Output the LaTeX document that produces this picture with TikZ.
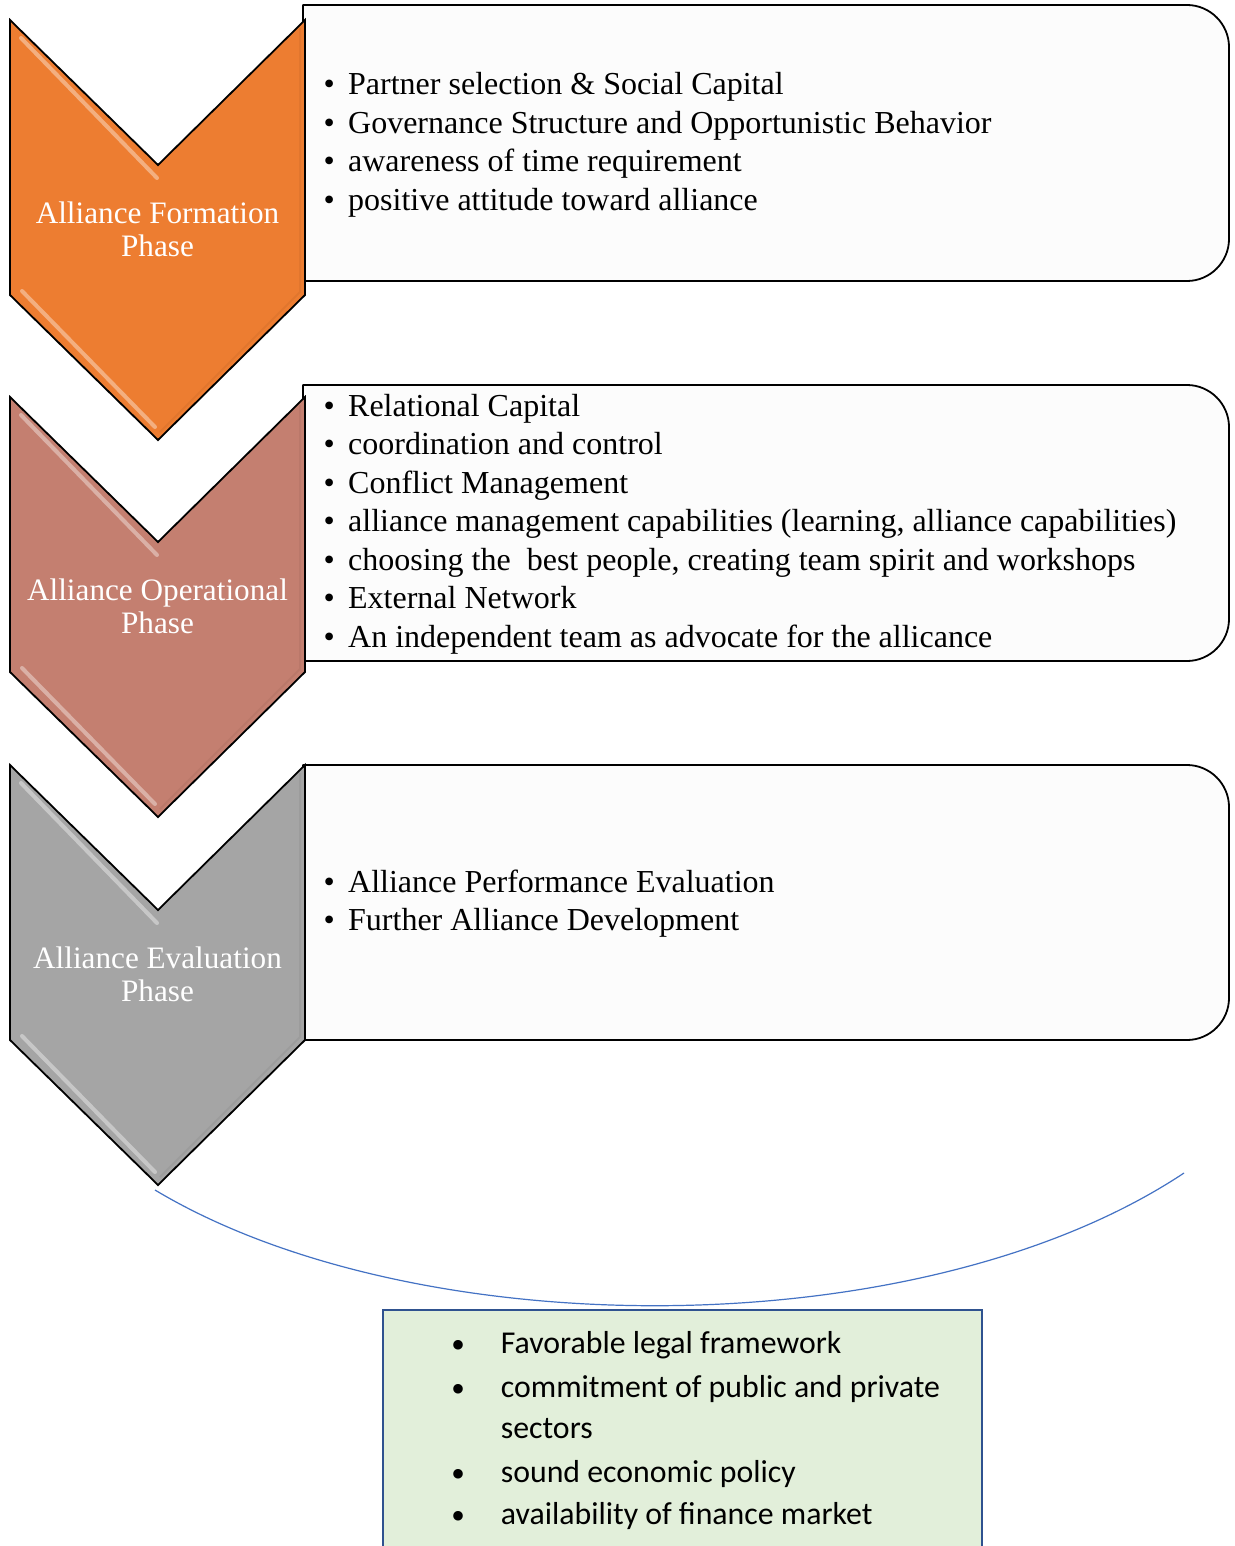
\documentclass[tikz,border=0pt]{standalone}
\usepackage{fontspec}
\setmainfont{Liberation Serif}
\newfontfamily\calfont{Carlito}
\definecolor{phorange}{HTML}{ED7D31}
\definecolor{phrose}{HTML}{C47F70}
\definecolor{phgray}{HTML}{A5A5A5}
\definecolor{boxfill}{HTML}{FCFCFC}
\definecolor{envfill}{HTML}{E2EFDA}
\definecolor{envdraw}{HTML}{2F528F}
\definecolor{arcblue}{HTML}{4472C4}
\newcommand\stagebox[2]{%
  \draw[phasebox] (303,#1) -- (1187,#1) .. controls (1210,#1) and (1229,#1+19) .. (1229,#1+42)
    -- (1229,#2-42) .. controls (1229,#2-19) and (1210,#2) .. (1187,#2) -- (303,#2) -- cycle;}
\newcommand\stagechev[2]{%
  \draw[chevshape,fill=#2] (10,#1) -- (158,#1+145) -- (305,#1) -- (305,#1+275) -- (158,#1+420) -- (10,#1+275) -- cycle;
  \draw[#2!55!white,line width=4pt,line cap=round,opacity=0.85] (21,#1+18) -- (157,#1+158);
  \draw[#2!55!white,line width=4pt,line cap=round,opacity=0.85] (22,#1+271) -- (155,#1+407);
  \draw[#2!80!black,line width=2pt,opacity=0.25] (300,#1+8) -- (300,#1+272) -- (160,#1+412);}
\newcommand\bul{\makebox[24.5pt][l]{\textbullet}}
\newcommand\envbul{\makebox[49.7pt][l]{\raisebox{-5pt}{\rmfamily\fontsize{40}{40}\selectfont\textbullet}}}
\begin{document}
\begin{tikzpicture}[x=1pt,y=-1pt,
  phasebox/.style={draw=black,line width=1.8pt,fill=boxfill,line join=round},
  chevshape/.style={draw=black,line width=1.8pt,line join=miter},
  phaselabel/.style={text=white,font=\fontsize{31.2}{32.7}\selectfont,inner sep=0pt,anchor=base},
  itemline/.style={font=\fontsize{32}{38.5}\selectfont,inner sep=0pt,anchor=base west},
  envline/.style={font=\calfont\fontsize{31.8}{44}\selectfont,inner sep=0pt,anchor=base west},
  envbox/.style={draw=envdraw,line width=2.5pt,fill=envfill},
  curve/.style={draw=arcblue,line width=1.2pt},
]
\useasboundingbox (0,0) rectangle (1234,1546);
\clip (0,0) rectangle (1234,1546);
\fill[white] (0,0) rectangle (1234,1546);

% boxes
\stagebox{5}{281}
\stagebox{385}{661}
\stagebox{765}{1040}

% chevrons
\stagechev{20}{phorange}
\stagechev{397}{phrose}
\stagechev{765}{phgray}

% chevron labels
\node[phaselabel] (lab1a) at (157.5,223.3) {Alliance Formation};
\node[phaselabel] (lab1b) at (157.5,256) {Phase};
\node[phaselabel] (lab2a) at (157.5,600.3) {Alliance Operational};
\node[phaselabel] (lab2b) at (157.5,633) {Phase};
\node[phaselabel] (lab3a) at (157.5,968.3) {Alliance Evaluation};
\node[phaselabel] (lab3b) at (157.5,1001) {Phase};

% items
\foreach \t [count=\i] in {Partner selection \& Social Capital,
  Governance Structure and Opportunistic Behavior,
  awareness of time requirement,
  positive attitude toward alliance}
  \node[itemline] (fa\i) at (323.5,95+38.5*\i-38.5) {\bul\t};

\foreach \t [count=\i] in {Relational Capital,
  coordination and control,
  Conflict Management,
  {alliance management capabilities (learning, alliance capabilities)},
  {choosing the\ \ best people, creating team spirit and workshops},
  External Network,
  An independent team as advocate for the allicance}
  \node[itemline] (op\i) at (323.5,416+38.5*\i-38.5) {\bul\t};

\foreach \t [count=\i] in {Alliance Performance Evaluation,
  Further Alliance Development}
  \node[itemline] (ev\i) at (323.5,892+38.5*\i-38.5) {\bul\t};

% arc
\coordinate (arcL) at (155,1190);
\coordinate (arcR) at (1184,1173);
\draw[curve] (arcL) .. controls (417,1347) and (922,1347) .. (arcR);

% environment box
\draw[envbox] (383,1310) rectangle (982,1570);
\node[envline] (en1) at (451,1353.3) {\envbul Favorable legal framework};
\node[envline] (en2) at (451,1397.7) {\envbul commitment of public and private};
\node[envline] (en2b) at (500.7,1438.3) {sectors};
\node[envline] (en3) at (451,1482.7) {\envbul sound economic policy};
\node[envline] (en4) at (451,1524) {\envbul availability of finance market};
\end{tikzpicture}
\end{document}
